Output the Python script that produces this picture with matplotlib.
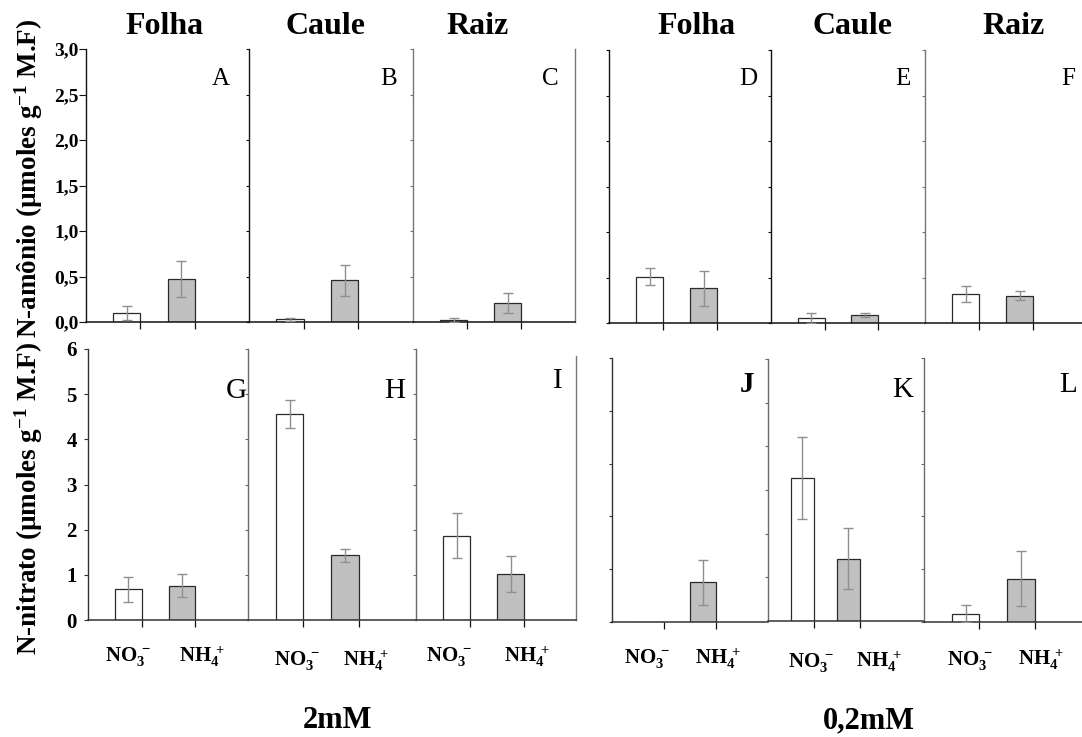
import matplotlib
matplotlib.use("Agg")
import matplotlib.pyplot as plt
import numpy as np

plt.rcParams["font.family"] = ["Liberation Serif", "DejaVu Serif"]
plt.rcParams["mathtext.fontset"] = "custom"
plt.rcParams["mathtext.rm"] = "Liberation Serif:bold"
plt.rcParams["mathtext.bf"] = "Liberation Serif:bold"
plt.rcParams["mathtext.it"] = "Liberation Serif:bold:italic"
plt.rcParams["mathtext.default"] = "bf"

# ---------------- data ----------------
organs = ["Folha", "Caule", "Raiz"]
sources = [r"$NO_3^{\;-}$", r"$NH_4^{\;+}$"]
concentrations = ["2mM", "0,2mM"]

# N-amônio (top row), [NO3-, NH4+] per organ
amonio_2mM = [[0.10, 0.47], [0.03, 0.46], [0.025, 0.21]]
amonio_2mM_err = [[0.08, 0.20], [0.015, 0.17], [0.02, 0.11]]
amonio_02mM = [[0.51, 0.38], [0.05, 0.088], [0.32, 0.30]]
amonio_02mM_err = [[0.095, 0.19], [0.055, 0.02], [0.085, 0.05]]

# N-nitrato (bottom row)
nitrato_2mM = [[0.68, 0.76], [4.56, 1.43], [1.87, 1.01]]
nitrato_2mM_err = [[0.28, 0.26], [0.31, 0.14], [0.50, 0.40]]
nitrato_02mM = [[0.0, 0.75], [3.27, 1.43], [0.16, 0.82]]
nitrato_02mM_err = [[0.0, 0.43], [0.94, 0.70], [0.16, 0.52]]

panel_letters_top = ["A", "B", "C", "D", "E", "F"]
panel_letters_bot = ["G", "H", "I", "J", "K", "L"]

# ---------------- layout ----------------
W, H = 1082, 737
fig = plt.figure(figsize=(W / 100, H / 100), dpi=100)


def box(x0, x1, y0, y1):
    return [x0 / W, 1 - y1 / H, (x1 - x0) / W, (y1 - y0) / H]


def fpos(x, y):
    return x / W, 1 - y / H


top_boxes = [(86, 249, 49, 322), (249, 413, 49, 322), (413, 575, 49, 322),
             (609, 771, 50, 323), (771, 925, 50, 323), (925, 1090, 50, 323)]
bot_boxes = [(88, 248, 349, 620), (248, 416, 349, 620), (416, 576, 349, 620),
             (612, 768, 358, 622), (768, 924, 359, 621), (924, 1090, 358, 622)]
top_xlim = [3.0, 3.0, 3.0, 3.0, 2.87, 3.05]
bot_xlim = [2.98, 3.03, 2.96, 3.0, 3.4, 3.0]
bot_ylim = [6, 6, 6, 5, 6, 5]

top_letter_xy = [(230, 79), (397, 79), (559, 79), (757, 79), (910, 79), (1075, 79)]
bot_letter_xy = [(247, 391), (405, 391), (563, 381), (754, 385), (913, 390), (1077, 385)]

label_x = [(0.75, 2.12), (0.88, 2.13), (0.61, 2.06), (0.67, 2.04), (0.95, 2.43), (0.84, 2.11)]
label_dy = [37, 41, 37, 37, 41, 38]

title_x = [165, 325, 478, 697, 853, 1014]

xb = np.array([0.75, 1.75])
bar_fill = ["white", "#c0c0c0"]
bar_edge = "#2a2a2a"
err_col = "#8f8f8f"


def draw(ax, vals, errs, ylim, step, xlim, spine_left, spine_bottom, tick_len):
    ax.bar(xb, vals, width=0.5, color=bar_fill, edgecolor=bar_edge,
           linewidth=0.9, zorder=2)
    for xi, v, e in zip(xb, vals, errs):
        if e > 0:
            ax.errorbar(xi, v, yerr=e, fmt="none", ecolor=err_col,
                        elinewidth=1.0, capsize=3.5, capthick=1.0, zorder=3)
    ax.set_xlim(0, xlim)
    ax.set_ylim(0, ylim)
    ax.set_yticks(np.arange(0, ylim + 1e-9, step))
    ax.set_xticks([1, 2])
    ax.set_xticklabels([])
    ax.tick_params(axis="x", direction="out", length=5, width=0.9, colors="#111")
    ax.tick_params(axis="y", direction="out", length=tick_len, width=0.8,
                   colors=spine_left)
    for s in ["top", "right"]:
        ax.spines[s].set_visible(False)
    ax.spines["left"].set_color(spine_left)
    ax.spines["bottom"].set_color(spine_bottom)
    ax.spines["left"].set_linewidth(1.0)
    ax.spines["bottom"].set_linewidth(1.1)
    ax.patch.set_alpha(0)


top_vals = amonio_2mM + amonio_02mM
top_errs = amonio_2mM_err + amonio_02mM_err
bot_vals = nitrato_2mM + nitrato_02mM
bot_errs = nitrato_2mM_err + nitrato_02mM_err

# top row: N-amônio
for i in range(6):
    ax = fig.add_axes(box(*top_boxes[i]))
    first = i == 0
    left_col = "#111" if i in (0, 1, 3, 4) else "#777"
    draw(ax, top_vals[i], top_errs[i], 3.0, 0.5, top_xlim[i],
         left_col, "#111", 5 if first else 2)
    if first:
        ax.set_yticklabels([f"{v:.1f}".replace(".", ",") for v in ax.get_yticks()],
                           fontsize=14, fontweight="bold")
        ax.tick_params(axis="y", pad=0, labelcolor="black", colors="#111")
    else:
        ax.set_yticklabels([])
    if i == 2:
        ax.spines["right"].set_visible(True)
        ax.spines["right"].set_color("#777")
        ax.spines["right"].set_linewidth(1.0)
    lx, ly = top_letter_xy[i]
    fig.text(*fpos(lx, ly), panel_letters_top[i], ha="right", va="center",
             fontsize=18)
    fig.text(*fpos(title_x[i], 26), organs[i % 3], ha="center", va="center",
             fontsize=23, fontweight="bold")

# bottom row: N-nitrato
for i in range(6):
    ax = fig.add_axes(box(*bot_boxes[i]))
    first = i == 0
    left_col = "#333" if i in (0, 3) else "#6a6a6a"
    draw(ax, bot_vals[i], bot_errs[i], bot_ylim[i], 1, bot_xlim[i],
         left_col, "#333", 3 if first else 2)
    if first:
        ax.set_yticklabels([f"{v:.0f}" for v in ax.get_yticks()],
                           fontsize=15, fontweight="bold")
        ax.tick_params(axis="y", pad=5, labelcolor="black")
    else:
        ax.set_yticklabels([])
    if i == 2:
        ax.spines["right"].set_visible(True)
        ax.spines["right"].set_color("#777")
        ax.spines["right"].set_linewidth(1.0)
        ax.spines["right"].set_bounds(0, 5.85)
    for k, lab in enumerate(sources):
        ax.annotate(lab, xy=(label_x[i][k], 0), xycoords=("data", "axes fraction"),
                    xytext=(0, -label_dy[i] * 0.72), textcoords="offset points",
                    ha="center", va="center", fontsize=15, annotation_clip=False)
    lx, ly = bot_letter_xy[i]
    fig.text(*fpos(lx, ly), panel_letters_bot[i], ha="right", va="center",
             fontsize=21, fontweight="bold" if panel_letters_bot[i] == "J" else "normal")

# axis titles
fig.text(*fpos(29, 178), "N-amônio (µmoles g$^{-1}$ M.F)", rotation=90,
         ha="center", va="center", fontsize=19.5, fontweight="bold")
fig.text(*fpos(29, 498), "N-nitrato (µmoles g$^{-1}$ M.F)", rotation=90,
         ha="center", va="center", fontsize=19.5, fontweight="bold")

# concentration labels
fig.text(*fpos(337, 721), concentrations[0], ha="center", va="center",
         fontsize=22, fontweight="bold")
fig.text(*fpos(869, 721), concentrations[1], ha="center", va="center",
         fontsize=22, fontweight="bold")

fig.savefig("out.png", dpi=100, facecolor="white")
